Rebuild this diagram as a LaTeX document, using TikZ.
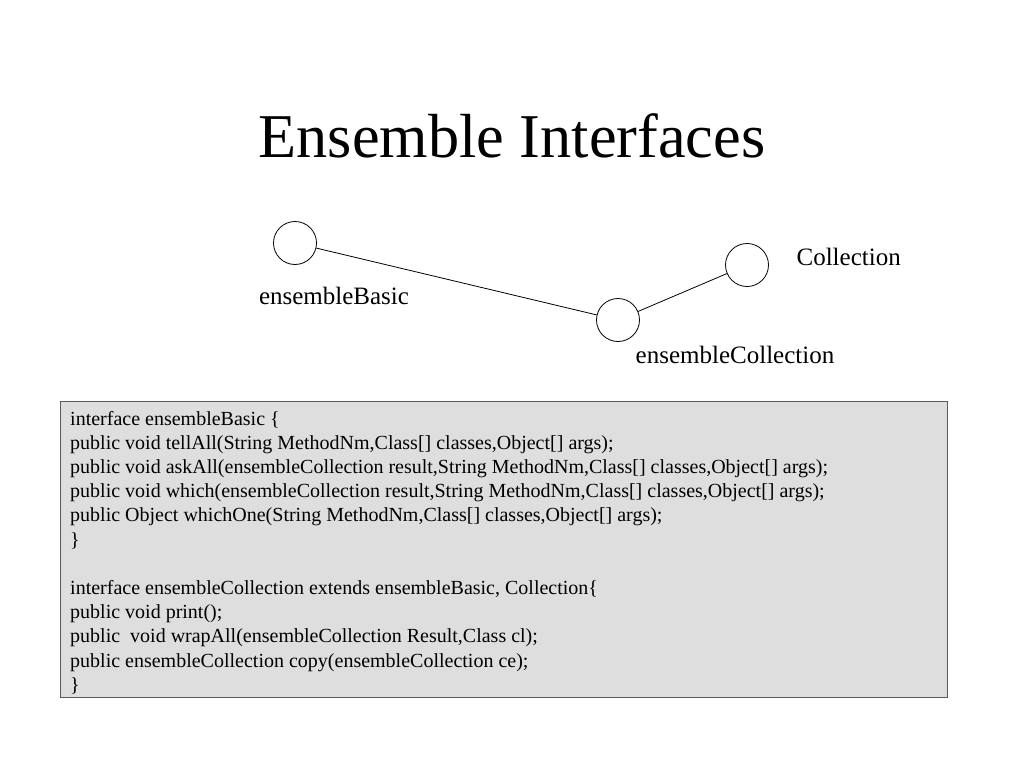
\documentclass[tikz,border=0pt]{standalone}
\usepackage{fontspec}
\setmainfont{Liberation Serif}
\usetikzlibrary{positioning}

\begin{document}
\begin{tikzpicture}[x=1pt, y=-1pt,
		iface/.style={draw, circle, minimum size=43pt, inner sep=0pt, line width=0.8pt},
		ifname/.style={font=\fontsize{25}{30}\selectfont, inner sep=0pt},
		link/.style={line width=0.8pt},
		codebox/.style={draw=black!65, line width=1pt, fill=black!13, minimum width=887pt, minimum height=296pt, anchor=north west, inner sep=0pt},
		code/.style={font=\fontsize{20}{24.2}\selectfont, align=left, inner sep=0pt, anchor=base west}
		]
		\useasboundingbox (0,0) rectangle (1024,768);
		
		% Title
		\node[font=\fontsize{62.3}{70}\selectfont, anchor=base] (title) at (512,157) {Ensemble Interfaces};
		
		% Interfaces
		\node[iface] (basic) at (295,243) {};
		\node[iface] (ecoll) at (618,320) {};
		\node[iface] (coll) at (747,265) {};
		
		\node[ifname, below=22pt of basic, xshift=39pt] (basicname) {ensembleBasic};
		\node[ifname, below=4.5pt of ecoll, xshift=117pt] (ecollname) {ensembleCollection};
		\node[ifname, right=27.5pt of coll, yshift=8.5pt] (collname) {Collection};
		
		% Links
		\draw[link] (basic) -- (ecoll);
		\draw[link] (ecoll) -- (coll);
		
		% Code (base anchor sits on the last line)
		\node[codebox] (box) at (60,401) {};
		\node[code] (code) at (70,691.2) {interface ensembleBasic \{\\
			public void tellAll(String MethodNm,Class[] classes,Object[] args);\\
			public void askAll(ensembleCollection result,String MethodNm,Class[] classes,Object[] args);\\
			public void which(ensembleCollection result,String MethodNm,Class[] classes,Object[] args);\\
			public Object whichOne(String MethodNm,Class[] classes,Object[] args);\\
			\}\\[24.2pt]
			interface ensembleCollection extends ensembleBasic, Collection\{\\
			public void print();\\
			public\ \ void wrapAll(ensembleCollection Result,Class cl);\\
			public ensembleCollection copy(ensembleCollection ce);\\
			\}};
		
	\end{tikzpicture}
\end{document}
